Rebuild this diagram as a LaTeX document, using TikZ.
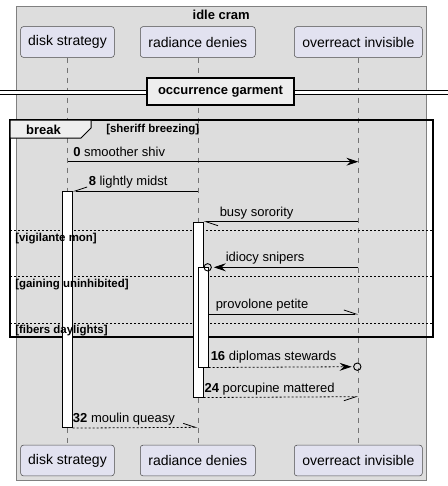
\documentclass[tikz,border=0pt]{standalone}
\usepackage{fontspec}
\setmainfont{Liberation Sans}
\usetikzlibrary{arrows.meta}
\definecolor{boxgray}{HTML}{DDDDDD}
\definecolor{partfill}{HTML}{E2E2F0}
\definecolor{tabfill}{HTML}{EEEEEE}

\begin{document}
\begin{tikzpicture}[x=0.75pt, y=-0.75pt,
    part/.style={draw=black!70, fill=partfill, rounded corners=2pt, line width=0.4pt,
      minimum height=23pt, font=\fontsize{10.5pt}{12pt}\selectfont},
    lifeline/.style={draw=black!55, dash pattern=on 3.75pt off 3.75pt, line width=0.4pt},
    actbox/.style={draw=black, fill=white, line width=0.6pt, inner sep=0pt, minimum width=7.2pt, anchor=north},
    msg/.style={draw=black, line width=0.6pt},
    ret/.style={msg, dash pattern=on 1.5pt off 1.5pt},
    full/.style={-{Stealth[length=9pt, width=6pt, inset=3.2pt]}},
    halfl/.style={-{Straight Barb[length=9pt, width=6pt, left]}},
    halfr/.style={-{Straight Barb[length=9pt, width=6pt, right]}},
    endring/.style={circle, draw, line width=0.7pt, minimum size=5.5pt, inner sep=0pt},
    lbl/.style={anchor=west, inner sep=0pt, font=\fontsize{9.75pt}{10pt}\selectfont},
    grp/.style={anchor=west, inner sep=0pt, font=\bfseries\fontsize{8.6pt}{9pt}\selectfont},
    head/.style={inner sep=0pt, font=\bfseries\fontsize{9.75pt}{10pt}\selectfont}]
    \useasboundingbox[fill=white] (0,0) rectangle (448,486);
    \draw[fill=boxgray, draw=black!50] (16,6) rectangle (426.7,480.7);
    \node[head] (title) at (221.2,15) {idle cram};
    \node[part, minimum width=70.2pt] (disk) at (67.5,42) {disk strategy};
    \node[part, minimum width=86.25pt] (rad) at (197.8,42) {radiance denies};
    \node[part, minimum width=96pt] (over) at (358.3,42) {overreact invisible};
    \node[part, minimum width=70.2pt] (diskb) at (67.5,460.5) {disk strategy};
    \node[part, minimum width=86.25pt] (radb) at (197.8,460.5) {radiance denies};
    \node[part, minimum width=96pt] (overb) at (358.3,460.5) {overreact invisible};
    \draw[lifeline] (disk) -- (diskb);
    \draw[lifeline] (rad) -- (radb);
    \draw[lifeline] (over) -- (overb);

    \fill[white] (0,90.3) rectangle (448,94.3);
    \draw[line width=0.75pt] (0,90.3) -- (448,90.3) (0,94.3) -- (448,94.3);
    \node[head, draw, line width=1.5pt, fill=tabfill, minimum width=110.25pt, minimum height=20.25pt] (garment) at (220.5,91.5) {occurrence garment};

    \draw[line width=1.1pt] (10,120) rectangle (433,337);
    \draw[fill=tabfill, line width=0.75pt] (10,120) -- (91,120) -- (91,128) -- (81,138) -- (10,138) -- cycle;
    \node[head] (brk) at (43.5,129.5) {break};
    \node[grp] (g0) at (106,130) {[sheriff breezing]};
    \draw[black, line width=0.5pt, dash pattern=on 1.5pt off 1.5pt] (10,230) -- (433,230) (10,276) -- (433,276) (10,323) -- (433,323);

    \node[actbox, minimum height=177.2pt] (actd) at (67.5,191) {};
    \node[actbox, minimum height=131.25pt] (actr) at (198.35,221.7) {};
    \node[actbox, minimum height=74.55pt] (acti) at (203.5,267.3) {};

    \node[grp] (g1) at (15,238.3) {[vigilante mon]};
    \node[grp] (g2) at (15,284.3) {[gaining uninhibited]};
    \node[grp] (g3) at (15,331) {[fibers daylights]};

    \coordinate (s0) at (67.7,161.7);
    \coordinate (e0) at (358.3,161.7);
    \coordinate (s8) at (197.7,191);
    \coordinate (sb) at (358.3,221.7);
    \coordinate (si) at (358.3,267.3);
    \coordinate (sp) at (208.3,314);
    \coordinate (ep) at (358.3,314);
    \coordinate (e24) at (358.3,396.7);
    \coordinate (e32) at (197.7,427.3);
    \node[endring] (ring1) at (207.7,267.3) {};
    \node[endring] (ring2) at (357.3,366.7) {};

    \draw[msg, full] (s0) -- (e0);
    \draw[msg, halfr] (s8) -- (actd.north east);
    \draw[msg, halfl] (sb) -- (actr.north east);
    \draw[msg, full, shorten >=1.5pt] (si) -- (ring1);
    \draw[msg, halfl] (sp) -- (ep);
    \draw[ret, full, shorten >=1.2pt] (acti.south east) -- (ring2);
    \draw[ret, halfr] (actr.south east) -- (e24);
    \draw[ret, halfl] (actd.south east) -- (e32);

    \node[lbl] (l0) at (73,152) {\textbf{0} smoother shiv};
    \node[lbl] (l8) at (88.5,181.7) {\textbf{8} lightly midst};
    \node[lbl] (lb) at (219.5,212.7) {busy sorority};
    \node[lbl] (li) at (225.5,258.3) {idiocy snipers};
    \node[lbl] (lp) at (215.5,305) {provolone petite};
    \node[lbl] (l16) at (210.5,356.7) {\textbf{16} diplomas stewards};
    \node[lbl] (l24) at (204.3,388.7) {\textbf{24} porcupine mattered};
    \node[lbl] (l32) at (72.7,419) {\textbf{32} moulin queasy};
\end{tikzpicture}
\end{document}
